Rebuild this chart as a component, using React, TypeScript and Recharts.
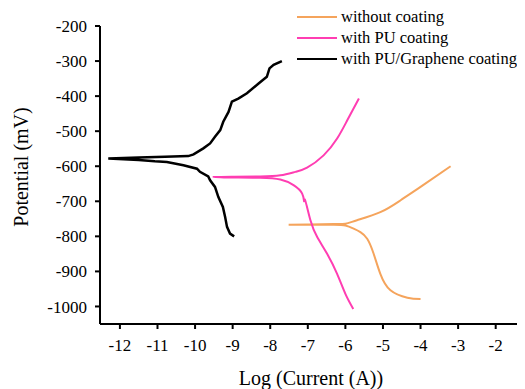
import React from 'react';
import { LineChart, Line, XAxis, YAxis, Legend } from 'recharts';

// Tafel curves: log current (x) vs potential in mV (y), traced from cathodic end -> Ecorr tip -> anodic end
const bareLogI = [-4.0, -4.35, -4.8, -5.07, -5.25, -5.42, -5.6, -5.78, -6.0, -6.31, -7.0, -7.51, -7.0, -6.31, -6.0, -5.69, -5.07, -4.53, -4.0, -3.2];
const bareE = [-979, -975, -954, -907, -849, -807, -788, -778, -769, -767, -767, -767, -766, -765, -764, -754, -731, -697, -659, -600];

const puLogI = [-5.79, -6.0, -6.22, -6.49, -6.75, -6.93, -7.07, -7.1, -7.15, -7.38, -7.73, -8.27, -9.0, -9.51, -9.0, -8.27, -7.73, -7.33, -7.02, -6.58, -6.22, -5.95, -5.64];
const puE = [-1007, -964, -907, -849, -802, -754, -697, -700, -678, -654, -638, -633, -632, -631, -630, -629, -626, -616, -604, -569, -521, -469, -407];

const grLogI = [-8.96, -9.07, -9.15, -9.2, -9.26, -9.38, -9.47, -9.6, -9.65, -9.87, -9.95, -10.31, -10.75, -11.07, -11.5, -12.31, -11.5, -10.8, -10.18, -10.04, -9.78, -9.6, -9.47, -9.33, -9.25, -9.11, -9.02, -8.85, -8.62, -8.31, -8.09, -8.02, -7.91, -7.69];
const grE = [-800, -792, -773, -745, -716, -688, -659, -640, -629, -616, -607, -597, -588, -586, -582, -578, -575, -573, -571, -566, -549, -535, -516, -497, -473, -445, -416, -407, -392, -364, -345, -321, -311, -300];

const xTicks = [-12, -11, -10, -9, -8, -7, -6, -5, -4, -3, -2];
const yTicks = [-1000, -900, -800, -700, -600, -500, -400, -300, -200];

const toPoints = (xs: number[], ys: number[]) => xs.map((x, i) => ({ x, y: ys[i] }));

const series = [
  { name: 'without coating', color: '#F5A45C', width: 2, curve: 'natural', data: toPoints(bareLogI, bareE) },
  { name: 'with PU coating', color: '#FF3DB2', width: 2, curve: 'natural', data: toPoints(puLogI, puE) },
  { name: 'with PU/Graphene coating', color: '#000000', width: 2.5, curve: 'linear', data: toPoints(grLogI, grE) },
];

const font = '"Liberation Serif", "Times New Roman", serif';

const renderLegend = () => (
  <div style={{ fontFamily: font, fontSize: 16.5, color: '#000', whiteSpace: 'nowrap' }}>
    {series.map((s) => (
      <div key={s.name} style={{ display: 'flex', alignItems: 'center', height: 21 }}>
        <span style={{ display: 'inline-block', width: 40, height: 2, background: s.color, marginRight: 4 }} />
        <span>{s.name}</span>
      </div>
    ))}
  </div>
);

const YTitle = (props: any) => {
  const { viewBox } = props;
  const cy = viewBox.y + viewBox.height / 2 - 8;
  return (
    <text x={13} y={cy} transform={`rotate(-90, 13, ${cy})`} textAnchor="middle" dominantBaseline="central"
      style={{ fontFamily: font }} fontSize={20} fill="#000">
      Potential (mV)
    </text>
  );
};

const XTick = ({ x, y, payload }: any) => (
  <text x={x} y={y} dy="0.71em" textAnchor="middle" fill="#000" fontSize={17} style={{ fontFamily: font }}>
    {payload.value}
  </text>
);

const YTick = ({ x, y, payload }: any) => (
  <text x={x} y={y} dy="0.355em" textAnchor="end" fill="#000" fontSize={17} style={{ fontFamily: font }}>
    {payload.value}
  </text>
);

export default function App() {
  return (
    <LineChart width={517} height={381} margin={{ top: 18, right: 3, bottom: 0, left: 0 }} style={{ fontFamily: font }}>
      <XAxis
        type="number"
        dataKey="x"
        domain={[-12.53, -1.3]}
        allowDataOverflow
        ticks={xTicks}
        height={65}
        tickSize={5}
        tickMargin={10}
        axisLine={{ stroke: '#000', strokeWidth: 2 }}
        tickLine={{ stroke: '#000', strokeWidth: 2 }}
        tick={<XTick />}
        label={{ value: 'Log (Current (A))', position: 'insideBottom', offset: 4, fill: '#000', fontSize: 20, style: { fontFamily: font } }}
      />
      <YAxis
        type="number"
        dataKey="y"
        domain={[-1050, -200]}
        allowDataOverflow
        ticks={yTicks}
        width={92}
        tickSize={5}
        tickMargin={8}
        axisLine={{ stroke: '#000', strokeWidth: 2 }}
        tickLine={{ stroke: '#000', strokeWidth: 2 }}
        tick={<YTick />}
        label={<YTitle />}
      />
      <Legend
        layout="vertical"
        align="center"
        verticalAlign="middle"
        content={renderLegend}
        wrapperStyle={{ top: -2, left: 289, width: 'auto' }}
      />
      {series.map((s) => (
        <Line
          key={s.name}
          name={s.name}
          data={s.data}
          dataKey="y"
          type={s.curve as any}
          stroke={s.color}
          strokeWidth={s.width}
          dot={false}
          activeDot={false}
          isAnimationActive={false}
        />
      ))}
    </LineChart>
  );
}
